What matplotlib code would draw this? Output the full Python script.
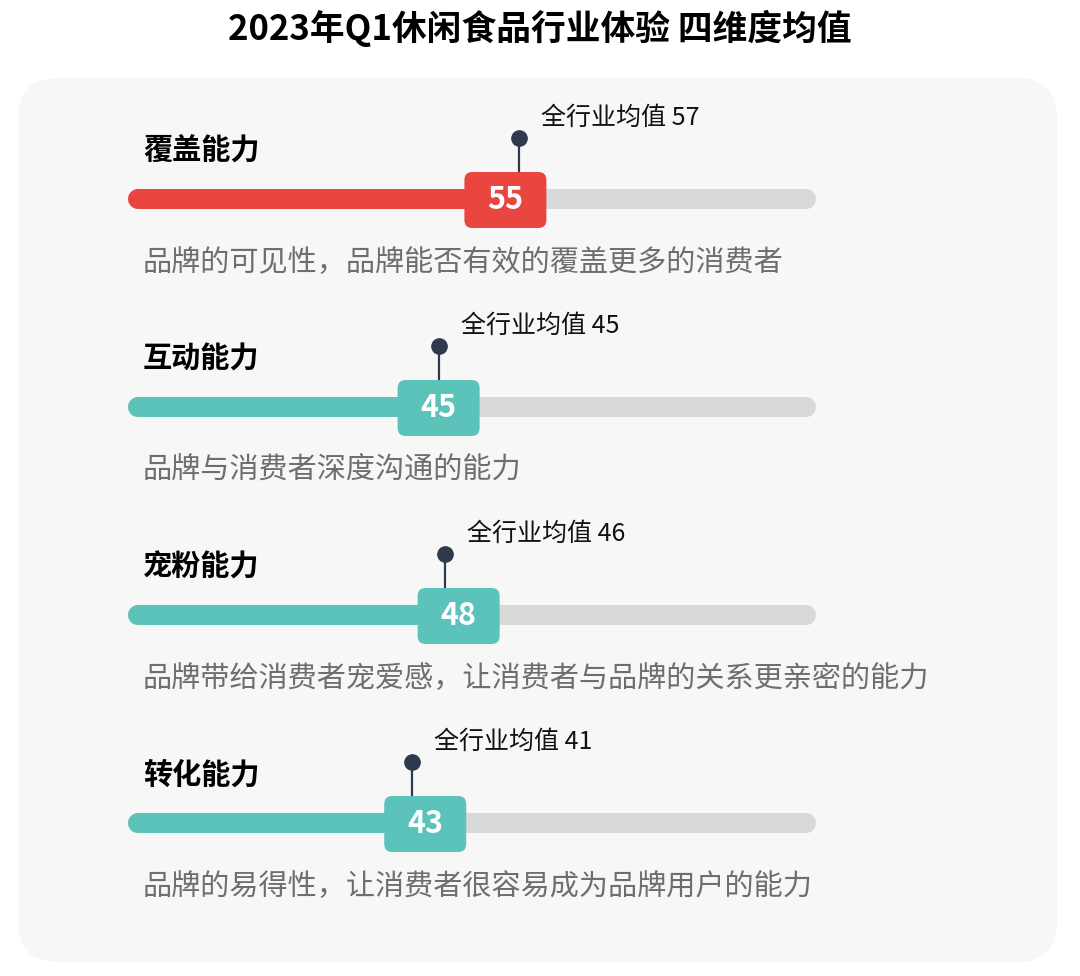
import matplotlib.pyplot as plt
from matplotlib.patches import FancyBboxPatch
from matplotlib.transforms import IdentityTransform

plt.rcParams['font.family'] = ['Noto Sans CJK SC', 'DejaVu Sans']

# data
title = '2023年Q1休闲食品行业体验 四维度均值'
dimensions = ['覆盖能力', '互动能力', '宠粉能力', '转化能力']
scores = [55, 45, 48, 43]
industry_avg = [57, 45, 46, 41]
descriptions = [
    '品牌的可见性，品牌能否有效的覆盖更多的消费者',
    '品牌与消费者深度沟通的能力',
    '品牌带给消费者宠爱感，让消费者与品牌的关系更亲密的能力',
    '品牌的易得性，让消费者很容易成为品牌用户的能力',
]
bar_colors = ['#e8463f', '#5bc3ba', '#5bc3ba', '#5bc3ba']

W, H = 1080, 976
fig = plt.figure(figsize=(W / 100, H / 100), dpi=100)
ax = fig.add_axes([0, 0, 1, 1])

# score 0 sits at px 138, 100 at px 806; rows are 208 px apart
PX = 6.68
RY = 208
X0, Y0 = 138, 199
ax.set_xlim(-X0 / PX, (W - X0) / PX)
ax.set_ylim((H - Y0) / RY, -Y0 / RY)
ax.axis('off')

# light rounded background panel
panel = FancyBboxPatch((18, H - 962), 1039, 884,
                       boxstyle='round,pad=0,rounding_size=40',
                       transform=IdentityTransform(),
                       fc='#f7f7f7', ec='none', zorder=0)
ax.add_patch(panel)

left_x = (143 - X0) / PX
for i, (name, v, a, desc, c) in enumerate(zip(dimensions, scores, industry_avg,
                                               descriptions, bar_colors)):
    # track + filled part
    ax.plot([0, 100], [i, i], color='#d9d9d9', lw=14.4,
            solid_capstyle='round', zorder=1)
    ax.plot([0, v], [i, i], color=c, lw=14.4,
            solid_capstyle='round', zorder=2)

    # industry average pin
    ax.plot([a, a], [i - 61 / RY, i - 20 / RY], color='#2e3a4b', lw=1.6, zorder=2)
    ax.plot(a, i - 61 / RY, 'o', ms=11, color='#2e3a4b', zorder=3)
    ax.text(a + 22 / PX, i - 81 / RY, f'全行业均值 {a}', fontsize=18,
            ha='left', va='center', color='#111111')

    # score box
    box = FancyBboxPatch((v - 41 / PX, i - 27 / RY), 82 / PX, 56 / RY,
                         boxstyle=f'round,pad=0,rounding_size={8 / PX}',
                         mutation_aspect=PX / RY, fc=c, ec='none', zorder=4)
    ax.add_patch(box)
    ax.text(v, i + 1 / RY, str(v), ha='center', va='center', color='white',
            fontsize=22, fontweight='bold', zorder=5)

    # heading and description
    ax.text(left_x, i - 48 / RY, name, fontsize=21, fontweight='bold',
            ha='left', va='center', color='#000000')
    ax.text(left_x, i + 63 / RY, desc, fontsize=21, color='#6e6e6e',
            ha='left', va='center')

fig.text(0.5, 1 - 28 / H, title, ha='center', va='center',
         fontsize=25, fontweight='bold', color='#000000')

fig.savefig('out.png', dpi=100)
